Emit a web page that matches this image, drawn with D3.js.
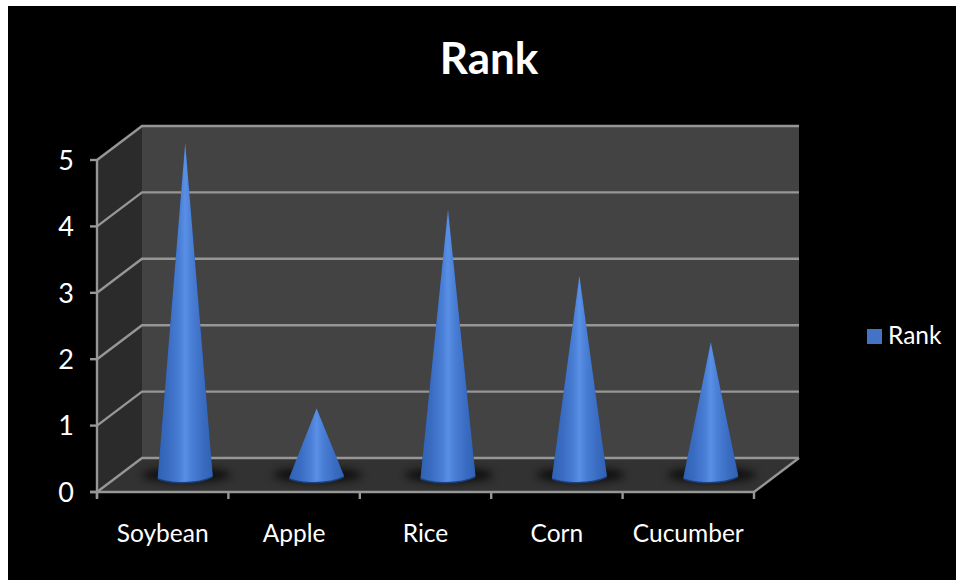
<!DOCTYPE html>
<html><head><meta charset="utf-8">
<script src="https://cdn.jsdelivr.net/npm/d3@7/dist/d3.min.js"></script>
<style>html,body{margin:0;padding:0;background:#fff}svg{display:block}text{font-family:Lato,"Open Sans",sans-serif;fill:#fff}</style>
</head><body><div id="c"></div>
<script>
const categories=["Soybean","Apple","Rice","Corn","Cucumber"];
const rankValues=[5,1,4,3,2];
const yTicks=[0,1,2,3,4,5];
const seriesName="Rank";
const W=956,H=580;
const svg=d3.select("#c").append("svg").attr("width",W).attr("height",H);
const defs=svg.append("defs");
const grad=defs.append("linearGradient").attr("id","cone").attr("x1",0).attr("x2",1).attr("y1",0).attr("y2",0);
[[0,"#2f61b2"],[.2,"#3a6cc2"],[.4,"#4a7fd6"],[.5,"#5a8fe6"],[.62,"#4a7fd6"],[.82,"#3a6cc2"],[1,"#2f61b2"]].forEach(s=>grad.append("stop").attr("offset",s[0]).attr("stop-color",s[1]));
const blur=defs.append("filter").attr("id","sh").attr("x","-30%").attr("y","-80%").attr("width","160%").attr("height","260%");
blur.append("feGaussianBlur").attr("stdDeviation",4.5);
svg.append("rect").attr("x",8).attr("y",6).attr("width",948).attr("height",574).attr("fill","#000");
const x=d3.scaleBand().domain(categories).range([97,754]);
const y=d3.scaleLinear().domain([0,5]).range([492,160]);
const dx=45,dy=-34;
const x0=x.range()[0],x1=x.range()[1];
const grid="#969696";
// walls
svg.append("polygon").attr("points",[[x0+dx,y(5)+dy],[x1+dx,y(5)+dy],[x1+dx,y(0)+dy],[x0+dx,y(0)+dy]].join(" ")).attr("fill","#434343");
svg.append("polygon").attr("points",[[x0,y(5)],[x0+dx,y(5)+dy],[x0+dx,y(0)+dy],[x0,y(0)]].join(" ")).attr("fill","#2b2b2b");
svg.append("polygon").attr("points",[[x0,y(0)],[x0+dx,y(0)+dy],[x1+dx,y(0)+dy],[x1,y(0)]].join(" ")).attr("fill","#323232");
// gridlines
yTicks.forEach(t=>{
  svg.append("polyline").attr("points",[[x0,y(t)],[x0+dx,y(t)+dy],[x1+dx,y(t)+dy]].join(" ")).attr("fill","none").attr("stroke",grid).attr("stroke-width",2.4);
});
svg.append("line").attr("x1",x1).attr("y1",y(0)).attr("x2",x1+dx).attr("y2",y(0)+dy).attr("stroke",grid).attr("stroke-width",2.4);
// axes
svg.append("line").attr("x1",x0).attr("x2",x0).attr("y1",y(5)).attr("y2",y(0)+6).attr("stroke",grid).attr("stroke-width",2.4);
svg.append("line").attr("x1",x0-7).attr("x2",x1).attr("y1",y(0)).attr("y2",y(0)).attr("stroke",grid).attr("stroke-width",2.4);
yTicks.forEach(t=>{
  svg.append("line").attr("x1",x0-7).attr("x2",x0).attr("y1",y(t)).attr("y2",y(t)).attr("stroke",grid).attr("stroke-width",2.4);
  svg.append("text").attr("x",66).attr("y",y(t)).attr("dy","0.36em").attr("text-anchor","middle").attr("font-size",27).text(t);
});
categories.map(c=>x(c)).concat([x1]).forEach(e=>svg.append("line").attr("x1",e).attr("x2",e).attr("y1",y(0)).attr("y2",y(0)+7).attr("stroke",grid).attr("stroke-width",2.4));
categories.forEach(c=>svg.append("text").attr("x",x(c)+x.bandwidth()/2).attr("y",542).attr("text-anchor","middle").attr("font-size",24.5).text(c));
// cones
const r=27.5,ry=7;
categories.forEach((c,i)=>{
  const cx=x(c)+x.bandwidth()/2+dx/2, by=y(0)+dy/2, ty=y(rankValues[i])+dy/2;
  svg.append("ellipse").attr("cx",cx+1).attr("cy",by).attr("rx",r+17).attr("ry",ry).attr("fill","#000").attr("opacity",.75).attr("filter","url(#sh)");
  const p=d3.path();
  p.moveTo(cx,ty);p.lineTo(cx+r,by+1);
  p.bezierCurveTo(cx+r*.55,by+ry+1,cx-r*.45,by+ry+2,cx-r,by+3);
  p.closePath();
  svg.append("path").attr("d",p.toString()).attr("fill","#1d3f7c").attr("transform","translate(0,1.5)");
  svg.append("path").attr("d",p.toString()).attr("fill","url(#cone)");
});
svg.append("text").attr("x",489).attr("y",74).attr("text-anchor","middle").attr("font-size",44).attr("font-weight",700).text(seriesName);
svg.append("rect").attr("x",867).attr("y",329).attr("width",15).attr("height",15).attr("fill","#4472c4");
svg.append("text").attr("x",888).attr("y",344).attr("font-size",24.5).text(seriesName);
</script></body></html>
